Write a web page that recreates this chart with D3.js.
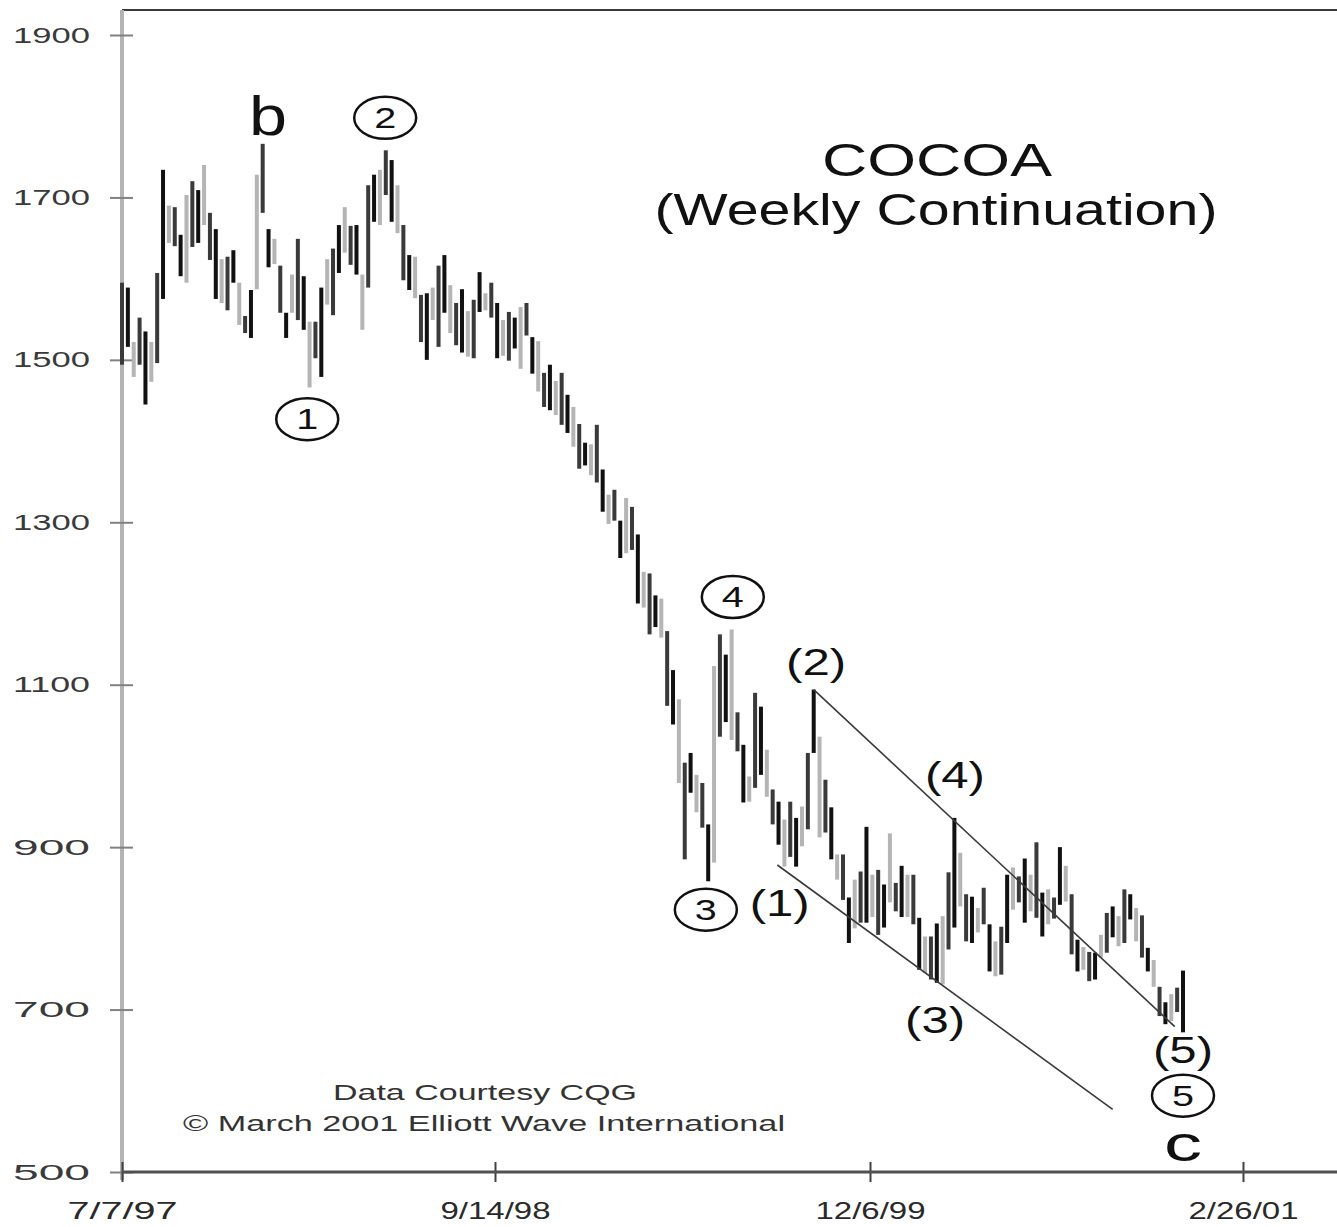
<!DOCTYPE html>
<html>
<head>
<meta charset="utf-8">
<script src="https://cdn.jsdelivr.net/npm/d3@7"></script>
<style>
  html, body { margin: 0; padding: 0; background: #fff; }
  svg { display: block; font-family: 'Liberation Sans', Arial, sans-serif; }
</style>
</head>
<body>
<svg id="chart" width="1337" height="1227"></svg>
<script>
'use strict'

// weekly high / low, first bar = week of 7/7/97
const highs = [
  1595, 1589, 1522, 1552, 1535, 1522, 1607, 1734, 1690, 1688,
  1654, 1703, 1720, 1709, 1740, 1681, 1661, 1624, 1627, 1635,
  1595, 1554, 1586, 1728, 1766, 1661, 1649, 1616, 1558, 1605,
  1649, 1603, 1547, 1547, 1589, 1624, 1637, 1666, 1688, 1665,
  1666, 1605, 1715, 1728, 1734, 1758, 1746, 1715, 1666, 1629,
  1627, 1580, 1582, 1589, 1616, 1629, 1592, 1570, 1587, 1560,
  1574, 1608, 1582, 1595, 1570, 1549, 1559, 1552, 1565, 1570,
  1528, 1523, 1484, 1494, 1474, 1484, 1457, 1442, 1421, 1398,
  1396, 1420, 1365, 1334, 1340, 1302, 1330, 1319, 1285, 1239,
  1237, 1210, 1206, 1166, 1118, 1082, 1004, 1016, 989, 979,
  928, 1123, 1162, 1137, 1168, 1066, 1026, 987, 1090, 1073,
  1020, 971, 956, 934, 956, 936, 950, 1016, 1094, 1036,
  983, 949, 891, 891, 838, 860, 870, 925, 866, 872,
  854, 917, 856, 877, 866, 866, 813, 790, 790, 806,
  815, 869, 936, 893, 842, 839, 825, 850, 805, 784,
  802, 866, 875, 864, 886, 866, 906, 844, 848, 838,
  900, 877, 842, 786, 777, 771, 770, 792, 819, 827,
  815, 848, 842, 825, 816, 776, 761, 728, 709, 719,
  727, 748
]
const lows = [
  1494, 1516, 1479, 1494, 1445, 1473, 1496, 1575, 1644, 1640,
  1603, 1595, 1639, 1644, 1666, 1623, 1575, 1570, 1561, 1595,
  1543, 1533, 1527, 1587, 1681, 1614, 1618, 1558, 1527, 1558,
  1549, 1537, 1466, 1502, 1479, 1568, 1555, 1607, 1632, 1617,
  1605, 1537, 1589, 1670, 1666, 1703, 1670, 1656, 1598, 1586,
  1576, 1522, 1500, 1549, 1516, 1558, 1533, 1518, 1509, 1504,
  1502, 1559, 1561, 1552, 1502, 1505, 1499, 1514, 1489, 1530,
  1483, 1461, 1442, 1438, 1432, 1420, 1410, 1393, 1366, 1370,
  1358, 1349, 1313, 1298, 1302, 1256, 1262, 1266, 1200, 1195,
  1162, 1171, 1158, 1074, 1051, 979, 885, 967, 943, 924,
  858, 881, 1036, 1054, 1032, 1018, 955, 956, 973, 989,
  962, 928, 903, 876, 888, 876, 901, 922, 1016, 912,
  918, 885, 860, 835, 782, 800, 807, 807, 814, 792,
  801, 832, 821, 814, 814, 805, 749, 745, 737, 733,
  731, 774, 801, 827, 784, 782, 795, 805, 747, 741,
  743, 782, 823, 832, 807, 821, 813, 790, 805, 812,
  829, 833, 768, 747, 749, 735, 737, 764, 770, 789,
  778, 782, 811, 784, 764, 747, 728, 692, 682, 686,
  697, 672
]

const priceTicks = [500, 700, 900, 1100, 1300, 1500, 1700, 1900]
const dateTicks = ['1997-07-07', '1998-09-14', '1999-12-06', '2001-02-26']

// Elliott wave labels, anchored at (bar index, price)
const waveLabels = [
  { text: 'b', i: 24.9, p: 1777, kind: 'letter' },
  { text: '2', i: 44.9, p: 1798, kind: 'circle' },
  { text: '1', i: 31.6, p: 1427, kind: 'circle' },
  { text: '4', i: 104.2, p: 1208, kind: 'circle' },
  { text: '3', i: 99.6, p: 823, kind: 'circle' },
  { text: '(1)', i: 112.2, p: 829, kind: 'paren' },
  { text: '(2)', i: 118.4, p: 1125, kind: 'paren' },
  { text: '(4)', i: 142.1, p: 986, kind: 'paren' },
  { text: '(3)', i: 138.7, p: 685, kind: 'paren' },
  { text: '(5)', i: 181, p: 648, kind: 'paren' },
  { text: '5', i: 181, p: 594, kind: 'circle' },
  { text: 'c', i: 181, p: 513, kind: 'letter' }
]

const channelTop = [[118, 1094], [179.6, 679]]
const channelBottom = [[111.8, 878], [169, 577]]

const svg = d3.select('#chart')
const plotLeft = 122
const plotRight = 1337
const plotTop = 10

const y = d3.scaleLinear().domain([500, 1900]).range([1172, 35])
const xi = d3.scaleLinear().domain([0, highs.length - 1]).range([plotLeft, 1183])
const parse = d3.timeParse('%Y-%m-%d')
const xt = d3.scaleTime()
  .domain(dateTicks.map(parse))
  .range([122, 495, 870, 1243])

const shades = ['#3a3a3a', '#8a8a8a', '#b5b5b5', '#4d4d4d', '#6e6e6e', '#111111', '#9c9c9c', '#5c5c5c']

// frame
svg.append('line')
  .attr('x1', plotLeft).attr('x2', plotRight).attr('y1', plotTop).attr('y2', plotTop)
  .attr('stroke', '#3a3a3a').attr('stroke-width', 2)
svg.append('line')
  .attr('x1', plotLeft).attr('x2', plotLeft).attr('y1', plotTop).attr('y2', 1180)
  .attr('stroke', '#b4b4b4').attr('stroke-width', 4)

// y axis
const yAxis = svg.append('g')
  .attr('transform', `translate(${plotLeft},0)`)
  .call(d3.axisLeft(y).tickValues(priceTicks).tickFormat(d3.format('d'))
    .tickSize(12).tickPadding(20))
yAxis.select('.domain').remove()
yAxis.selectAll('.tick line')
  .attr('x1', 11).attr('stroke', '#808080').attr('stroke-width', 2)
yAxis.selectAll('.tick text')
  .attr('font-size', 22).attr('fill', '#3a3a3a')
  .attr('textLength', 77).attr('lengthAdjust', 'spacingAndGlyphs')

// x axis
const xAxis = svg.append('g')
  .attr('transform', `translate(0,${y(500)})`)
  .call(d3.axisBottom(xt)
    .tickValues(dateTicks.map(parse))
    .tickFormat(d3.timeFormat('%-m/%-d/%y'))
    .tickSize(10).tickPadding(20))
xAxis.select('.domain').remove()
svg.append('line')
  .attr('x1', plotLeft).attr('x2', plotRight).attr('y1', y(500)).attr('y2', y(500))
  .attr('stroke', '#505050').attr('stroke-width', 3)
xAxis.selectAll('.tick line')
  .attr('y1', -10).attr('stroke', '#404040').attr('stroke-width', 2)
xAxis.selectAll('.tick text')
  .attr('font-size', 24).attr('fill', '#2a2a2a')
  .attr('textLength', 110).attr('lengthAdjust', 'spacingAndGlyphs')

// weekly bars
svg.append('g')
  .selectAll('rect')
  .data(highs)
  .join('rect')
  .attr('x', (d, i) => xi(i) - 2)
  .attr('width', 4)
  .attr('y', (d) => y(d))
  .attr('height', (d, i) => y(lows[i]) - y(d))
  .attr('fill', (d, i) => shades[(i * 5 + Math.floor(i / 3)) % shades.length])

// channel lines
const chan = d3.line().x((d) => xi(d[0])).y((d) => y(d[1]))
svg.append('path').attr('d', chan(channelTop))
  .attr('fill', 'none').attr('stroke', '#3a3a3a').attr('stroke-width', 1.6)
svg.append('path').attr('d', chan(channelBottom))
  .attr('fill', 'none').attr('stroke', '#3a3a3a').attr('stroke-width', 1.6)

// wave labels
const wl = svg.append('g').selectAll('g')
  .data(waveLabels)
  .join('g')
  .attr('transform', (d) => `translate(${xi(d.i)},${y(d.p)})`)

wl.filter((d) => d.kind === 'circle')
  .append('ellipse')
  .attr('rx', 31).attr('ry', 21)
  .attr('fill', 'none').attr('stroke', '#111').attr('stroke-width', 2.5)

wl.append('text')
  .attr('text-anchor', 'middle')
  .attr('dy', (d) => d.kind === 'letter' ? 0 : (d.kind === 'circle' ? 10 : 11))
  .attr('font-size', (d) => d.kind === 'letter' ? (d.text === 'c' ? 50 : 56) : (d.kind === 'circle' ? 30 : 36))
  .attr('fill', '#111')
  .attr('textLength', (d) => d.kind === 'letter' ? 38 : (d.kind === 'circle' ? 22 : 60))
  .attr('lengthAdjust', 'spacingAndGlyphs')
  .text((d) => d.text)

// title
svg.append('text')
  .attr('x', 937).attr('y', 176)
  .attr('text-anchor', 'middle').attr('font-size', 46).attr('fill', '#111')
  .attr('textLength', 230).attr('lengthAdjust', 'spacingAndGlyphs')
  .text('COCOA')
svg.append('text')
  .attr('x', 936).attr('y', 225)
  .attr('text-anchor', 'middle').attr('font-size', 44).attr('fill', '#111')
  .attr('textLength', 563).attr('lengthAdjust', 'spacingAndGlyphs')
  .text('(Weekly Continuation)')

// credits
svg.append('text')
  .attr('x', 485).attr('y', 1100)
  .attr('text-anchor', 'middle').attr('font-size', 22).attr('fill', '#333')
  .attr('textLength', 304).attr('lengthAdjust', 'spacingAndGlyphs')
  .text('Data Courtesy CQG')
svg.append('text')
  .attr('x', 484).attr('y', 1131)
  .attr('text-anchor', 'middle').attr('font-size', 22).attr('fill', '#333')
  .attr('textLength', 602).attr('lengthAdjust', 'spacingAndGlyphs')
  .text('\u00a9 March 2001 Elliott Wave International')
</script>
</body>
</html>
